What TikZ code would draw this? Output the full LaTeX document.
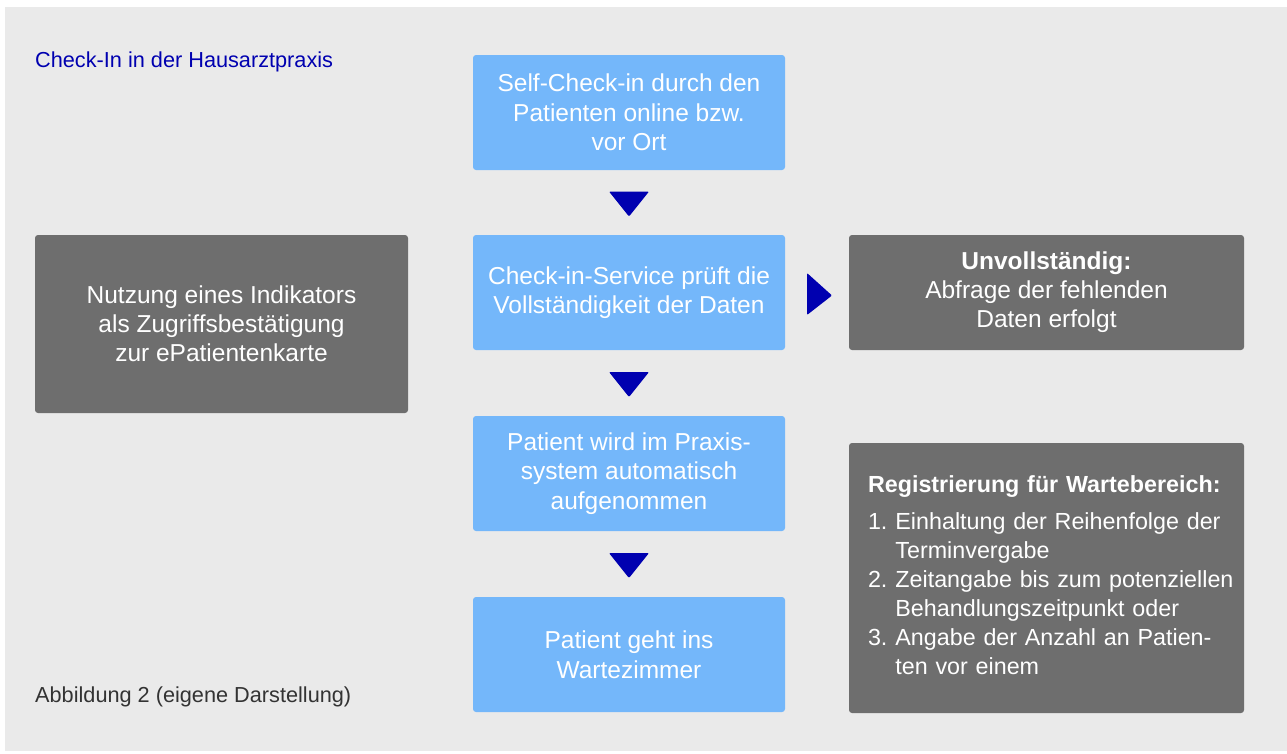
\documentclass[tikz,border=0pt]{standalone}
\usepackage{fontspec}
\setmainfont{Liberation Sans}
\usetikzlibrary{calc}

\definecolor{bggrey}{RGB}{234,234,234}
\definecolor{boxblue}{RGB}{116,183,250}
\definecolor{boxgrey}{RGB}{110,110,110}
\definecolor{tipblue}{RGB}{0,0,176}
\definecolor{capgrey}{RGB}{51,51,51}

\tikzset{
  flow/.style = {fill = boxblue, text = white, rounded corners = 3pt,
    minimum width = 312pt, minimum height = 115pt, align = center,
    font = \fontsize{24.5}{29.5}\selectfont},
  info/.style = {fill = boxgrey, text = white, rounded corners = 3pt,
    align = center, font = \fontsize{24.5}{29}\selectfont},
  tip/.style = {fill = tipblue, rounded corners = 1pt},
  plain/.style = {anchor = west, inner sep = 0pt, font = \fontsize{21.7}{26}\selectfont}
}

\begin{document}
\begin{tikzpicture}[x = 1pt, y = -1pt]
    \useasboundingbox (0,0) rectangle (1287,753);
    \fill [bggrey] (5,7) rectangle (1287,751);

    \node [plain, text = tipblue] (title) at (35,62) {Check-In in der Hausarztpraxis};
    \node [plain, text = capgrey] (caption) at (35,697) {Abbildung 2 (eigene Darstellung)};

    \node [flow] (self) at (629,112.5) {Self-Check-in durch den\\Patienten online bzw.\\vor Ort};
    \node [flow] (pruef) at (629,292.5) {Check-in-Service prüft die\\Vollständigkeit der Daten};
    \node [flow] (praxis) at (629,473.5) {Patient wird im Praxis-\\system automatisch\\aufgenommen};
    \node [flow] (warte) at (629,654.5) {Patient geht ins\\Wartezimmer};

    \node [info, minimum width = 373pt, minimum height = 178pt] (indikator) at (221.5,324)
        {Nutzung eines Indikators\\als Zugriffsbestätigung\\zur ePatientenkarte};
    \node [info, minimum width = 395pt, minimum height = 115pt] (unvoll) at (1046.5,292.5)
        {\textbf{Unvollständig:}\\Abfrage der fehlenden\\Daten erfolgt};
    \node [info, minimum height = 270pt, inner xsep = 19pt, text width = 357pt, align = left,
        font = \fontsize{23.3}{29}\selectfont] (register) at (1046.5,578)
        {\begin{tabular}{@{}l@{\hspace{8pt}}l@{}}
           \multicolumn{2}{@{}l@{}}{\textbf{Registrierung für Wartebereich:}}\\[8pt]
           1. & Einhaltung der Reihenfolge der\\
              & Terminvergabe\\
           2. & Zeitangabe bis zum potenziellen\\
              & Behandlungszeitpunkt oder\\
           3. & Angabe der Anzahl an Patien-\\
              & ten vor einem
         \end{tabular}};

    % Pfeile zwischen den Schritten
    \coordinate (d1) at ($(self.south)!0.5!(pruef.north)$);
    \coordinate (d2) at ($(pruef.south)!0.5!(praxis.north)$);
    \coordinate (d3) at ($(praxis.south)!0.5!(warte.north)$);
    \coordinate (r1) at ($(pruef.east)!0.5!(unvoll.west)$);
    \foreach \d in {d1,d2,d3}
        \fill [tip] ($(\d)+(-20,-11)$) -- ($(\d)+(20,-11)$) -- ($(\d)+(0,14)$) -- cycle;
    \fill [tip] ($(r1)+(-10,-19.5)$) -- ($(r1)+(15,3)$) -- ($(r1)+(-10,22.5)$) -- cycle;
\end{tikzpicture}
\end{document}
